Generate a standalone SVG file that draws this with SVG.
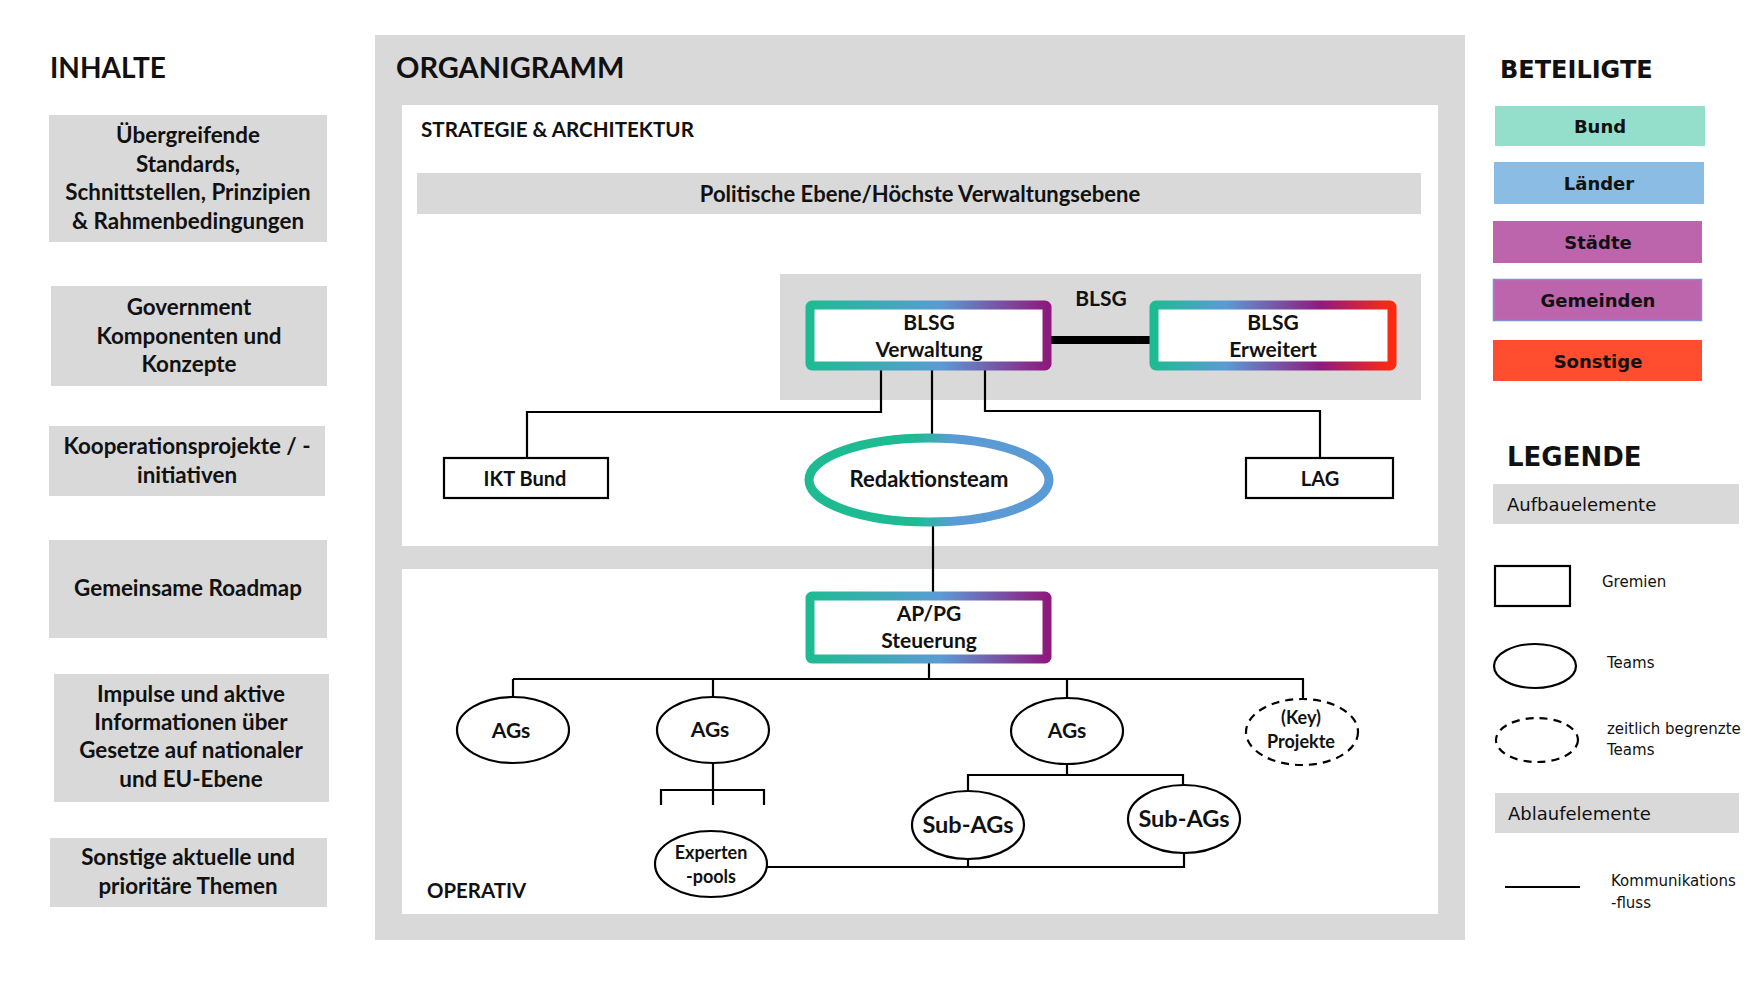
<svg xmlns="http://www.w3.org/2000/svg" width="1748" height="981" viewBox="0 0 1748 981">
<defs>
<style>
.c{font-family:Lato,"Open Sans","Liberation Sans",sans-serif;font-weight:bold;fill:#111;}
.v{font-family:"DejaVu Sans","Liberation Sans",sans-serif;fill:#111;}
.t{font-size:21px;text-anchor:middle;}
.l{font-size:22.4px;text-anchor:middle;}
.box{fill:#d9d9d9;}
.ln{stroke:#000;stroke-width:2.2;fill:none;}
.node{fill:#fff;stroke:#000;stroke-width:2.2;}
.dash{fill:#fff;stroke:#000;stroke-width:2.2;stroke-dasharray:8 6;}
</style>
<linearGradient id="g3" x1="0" y1="0" x2="1" y2="0">
<stop offset="0" stop-color="#1ebb93"/><stop offset="0.55" stop-color="#5b9bd5"/><stop offset="1" stop-color="#8e1a7e"/>
</linearGradient>
<linearGradient id="g4" x1="0" y1="0" x2="1" y2="0">
<stop offset="0" stop-color="#1ebb93"/><stop offset="0.3" stop-color="#5b9bd5"/><stop offset="0.7" stop-color="#8e1a7e"/><stop offset="1" stop-color="#ff2a10"/>
</linearGradient>
<linearGradient id="g2" x1="0" y1="0" x2="1" y2="0">
<stop offset="0" stop-color="#1ebb93"/><stop offset="0.45" stop-color="#1ebb93"/><stop offset="0.6" stop-color="#5b9bd5"/><stop offset="1" stop-color="#5b9bd5"/>
</linearGradient>
</defs>
<rect x="0" y="0" width="1748" height="981" fill="#fff"/>

<!-- INHALTE column -->
<g id="inhalte">
<text class="c" x="50" y="78" font-size="28">INHALTE</text>
<g id="i1"><rect class="box" x="49" y="115" width="278" height="127"/>
<text class="c l"><tspan x="188" y="143">Übergreifende</tspan><tspan x="188" y="172">Standards,</tspan><tspan x="188" y="200">Schnittstellen, Prinzipien</tspan><tspan x="188" y="229">&amp; Rahmenbedingungen</tspan></text></g>
<g id="i2"><rect class="box" x="51" y="286" width="276" height="100"/>
<text class="c l"><tspan x="189" y="315">Government</tspan><tspan x="189" y="344">Komponenten und</tspan><tspan x="189" y="372">Konzepte</tspan></text></g>
<g id="i3"><rect class="box" x="49" y="426" width="276" height="70"/>
<text class="c l"><tspan x="187" y="454">Kooperationsprojekte / -</tspan><tspan x="187" y="483">initiativen</tspan></text></g>
<g id="i4"><rect class="box" x="49" y="540" width="278" height="98"/>
<text class="c l" x="188" y="596">Gemeinsame Roadmap</text></g>
<g id="i5"><rect class="box" x="54" y="674" width="275" height="128"/>
<text class="c l"><tspan x="191" y="702">Impulse und aktive</tspan><tspan x="191" y="730">Informationen über</tspan><tspan x="191" y="758">Gesetze auf nationaler</tspan><tspan x="191" y="787">und EU-Ebene</tspan></text></g>
<g id="i6"><rect class="box" x="50" y="838" width="277" height="69"/>
<text class="c l"><tspan x="188" y="865">Sonstige aktuelle und</tspan><tspan x="188" y="894">prioritäre Themen</tspan></text></g>
</g>

<!-- ORGANIGRAMM panel -->
<g id="organigramm">
<rect x="375" y="35" width="1090" height="905" fill="#d9d9d9"/>
<text class="c" x="396" y="78" font-size="29">ORGANIGRAMM</text>
<rect x="402" y="105" width="1036" height="441" fill="#fff"/>
<rect x="402" y="569" width="1036" height="345" fill="#fff"/>
<text class="c" x="421" y="137" font-size="20.6">STRATEGIE &amp; ARCHITEKTUR</text>
<text class="c" x="427" y="898" font-size="20.4">OPERATIV</text>
<g id="politisch"><rect class="box" x="417" y="173" width="1004" height="41"/>
<text class="c" x="920" y="202" font-size="22" text-anchor="middle">Politische Ebene/Höchste Verwaltungsebene</text></g>
<g id="blsg"><rect class="box" x="780" y="274" width="641" height="126"/>
<text class="c t" x="1101" y="306">BLSG</text></g>
</g>

<!-- connectors -->
<g id="connectors">
<line x1="1051" y1="340" x2="1150" y2="340" stroke="#000" stroke-width="8"/>
<polyline class="ln" points="881,370 881,412 527,412 527,458"/>
<line class="ln" x1="932" y1="370" x2="932" y2="437"/>
<polyline class="ln" points="985,370 985,411 1320,411 1320,458"/>
<line class="ln" x1="933" y1="524" x2="933" y2="592"/>
<line class="ln" x1="929" y1="663" x2="929" y2="679"/>
<line class="ln" x1="513" y1="679" x2="1304" y2="679"/>
<line class="ln" x1="513" y1="679" x2="513" y2="697"/>
<line class="ln" x1="713" y1="679" x2="713" y2="697"/>
<line class="ln" x1="1067" y1="679" x2="1067" y2="698"/>
<line class="ln" x1="1303" y1="679" x2="1303" y2="699"/>
<line class="ln" x1="713" y1="763" x2="713" y2="790"/>
<polyline class="ln" points="661,805 661,790 764,790 764,805"/>
<line class="ln" x1="713" y1="790" x2="713" y2="805"/>
<line class="ln" x1="1067" y1="764" x2="1067" y2="775"/>
<polyline class="ln" points="968,792 968,775 1183,775 1183,786"/>
<polyline class="ln" points="767,867 1184,867 1184,853"/>
<line class="ln" x1="968" y1="859" x2="968" y2="867"/>
</g>

<!-- nodes -->
<g id="blsg-verwaltung"><rect x="810" y="305" width="237" height="61" fill="#fff" stroke="url(#g3)" stroke-width="9" rx="2"/>
<text class="c t"><tspan x="929" y="330">BLSG</tspan><tspan x="929" y="357">Verwaltung</tspan></text></g>
<g id="blsg-erweitert"><rect x="1154" y="305" width="238" height="61" fill="#fff" stroke="url(#g4)" stroke-width="9" rx="2"/>
<text class="c t"><tspan x="1273" y="330">BLSG</tspan><tspan x="1273" y="357">Erweitert</tspan></text></g>
<g id="ikt-bund"><rect class="node" x="444" y="458" width="164" height="40"/>
<text class="c" x="525" y="486" font-size="20" text-anchor="middle">IKT Bund</text></g>
<g id="lag"><rect class="node" x="1246" y="458" width="147" height="40"/>
<text class="c" x="1320" y="486" font-size="20" text-anchor="middle">LAG</text></g>
<g id="redaktionsteam"><ellipse cx="929" cy="480" rx="120" ry="42" fill="#fff" stroke="url(#g2)" stroke-width="9"/>
<text class="c" x="929" y="487" font-size="22" text-anchor="middle">Redaktionsteam</text></g>
<g id="appg"><rect x="810" y="596" width="237" height="63" fill="#fff" stroke="url(#g3)" stroke-width="9" rx="2"/>
<text class="c t"><tspan x="929" y="621">AP/PG</tspan><tspan x="929" y="648">Steuerung</tspan></text></g>
<g id="ags1"><ellipse class="node" cx="513" cy="730" rx="56" ry="33"/><text class="c t" x="511" y="738">AGs</text></g>
<g id="ags2"><ellipse class="node" cx="713" cy="730" rx="56" ry="33"/><text class="c t" x="710" y="737">AGs</text></g>
<g id="ags3"><ellipse class="node" cx="1067" cy="731" rx="56" ry="33"/><text class="c t" x="1067" y="738">AGs</text></g>
<g id="key-projekte"><ellipse class="dash" cx="1302" cy="732" rx="56" ry="33"/>
<text class="c" font-size="18" text-anchor="middle"><tspan x="1301" y="724">(Key)</tspan><tspan x="1301" y="748">Projekte</tspan></text></g>
<g id="experten"><ellipse class="node" cx="711" cy="864" rx="56" ry="33"/>
<text class="c" font-size="18" text-anchor="middle"><tspan x="711" y="859">Experten</tspan><tspan x="711" y="883">-pools</tspan></text></g>
<g id="subags1"><ellipse class="node" cx="968" cy="825" rx="56" ry="34"/><text class="c" x="968" y="833" font-size="23.5" text-anchor="middle">Sub-AGs</text></g>
<g id="subags2"><ellipse class="node" cx="1184" cy="819" rx="56" ry="34"/><text class="c" x="1184" y="827" font-size="23.5" text-anchor="middle">Sub-AGs</text></g>

<!-- BETEILIGTE -->
<g id="beteiligte">
<text class="v" x="1500" y="78" font-size="24" font-weight="bold">BETEILIGTE</text>
<g id="bund"><rect x="1495" y="106" width="210" height="40" fill="#94dfcb"/><text class="v" x="1600" y="133" font-size="18" font-weight="bold" text-anchor="middle">Bund</text></g>
<g id="laender"><rect x="1494" y="162" width="210" height="42" fill="#8bbce3"/><text class="v" x="1599" y="190" font-size="18" font-weight="bold" text-anchor="middle">Länder</text></g>
<g id="staedte"><rect x="1493" y="221" width="209" height="42" fill="#bc65ad"/><text class="v" x="1598" y="249" font-size="18" font-weight="bold" text-anchor="middle">Städte</text></g>
<g id="gemeinden"><rect x="1493.5" y="279.5" width="208" height="41" fill="#bc65ad" stroke="#7f8fd0" stroke-width="1.5"/><text class="v" x="1598" y="307" font-size="18" font-weight="bold" text-anchor="middle">Gemeinden</text></g>
<g id="sonstige"><rect x="1493" y="340" width="209" height="41" fill="#fe4e2f"/><text class="v" x="1598" y="368" font-size="18" font-weight="bold" text-anchor="middle">Sonstige</text></g>
</g>

<!-- LEGENDE -->
<g id="legende">
<text class="v" x="1507" y="466" font-size="26" font-weight="bold">LEGENDE</text>
<rect class="box" x="1493" y="484" width="246" height="40"/>
<text class="v" x="1507" y="511" font-size="18">Aufbauelemente</text>
<rect x="1495" y="566" width="75" height="40" fill="#fff" stroke="#000" stroke-width="2.2"/>
<text class="v" x="1602" y="587" font-size="15">Gremien</text>
<ellipse cx="1535" cy="666" rx="41" ry="22" fill="#fff" stroke="#000" stroke-width="2.2"/>
<text class="v" x="1607" y="668" font-size="15">Teams</text>
<ellipse cx="1537" cy="740" rx="41" ry="22" fill="#fff" stroke="#000" stroke-width="2.2" stroke-dasharray="8 6"/>
<text class="v" font-size="15"><tspan x="1607" y="734">zeitlich begrenzte</tspan><tspan x="1607" y="755">Teams</tspan></text>
<rect class="box" x="1495" y="793" width="244" height="40"/>
<text class="v" x="1508" y="820" font-size="18">Ablaufelemente</text>
<line x1="1505" y1="887" x2="1580" y2="887" stroke="#000" stroke-width="2.2"/>
<text class="v" font-size="15"><tspan x="1611" y="886">Kommunikations</tspan><tspan x="1611" y="908">-fluss</tspan></text>
</g>
</svg>
